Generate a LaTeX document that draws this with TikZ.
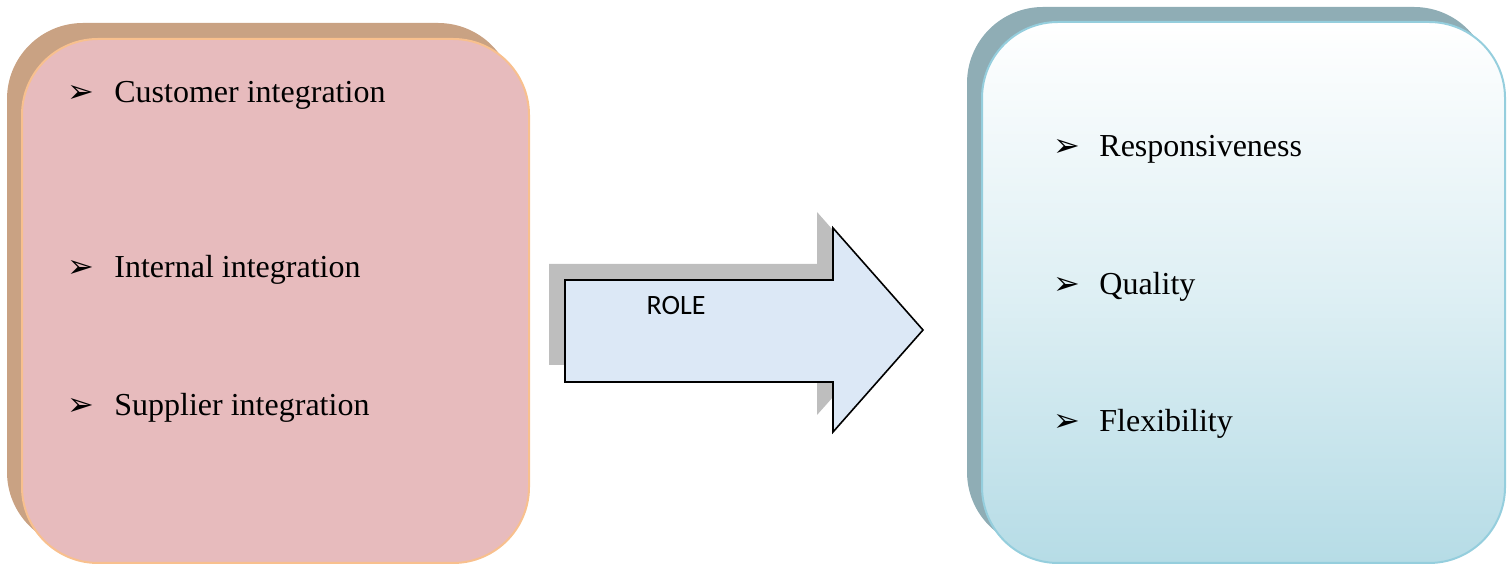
\documentclass[tikz,border=0pt]{standalone}
\usepackage{fontspec}
\setmainfont{Liberation Serif}
\newfontfamily\symfont{DejaVu Sans}
\newfontfamily\labelfont{Carlito}

\definecolor{pinkfill}{HTML}{E7BBBD}
\definecolor{pinkedge}{HTML}{F8C08E}
\definecolor{tanshade}{HTML}{C9A283}
\definecolor{blueedge}{HTML}{95CEDD}
\definecolor{blueshade}{HTML}{8FADB5}
\definecolor{bluebottom}{HTML}{B6DCE6}
\definecolor{arrowfill}{HTML}{DCE8F6}
\definecolor{arrowshade}{HTML}{BEBEBE}

\tikzset{
  panel/.style={rectangle, rounded corners=38pt, inner sep=0pt},
  item/.style={anchor=west, inner sep=0pt, font=\fontsize{16pt}{19pt}\selectfont},
  bullet/.style={anchor=west, inner sep=0pt, font=\symfont\bfseries\fontsize{16pt}{19pt}\selectfont},
}

\begin{document}
\begin{tikzpicture}[x=0.5pt, y=-0.5pt]
\useasboundingbox (0,0) rectangle (1508,565);

% left panel: drop shade and face
\node[panel, fill=tanshade, minimum width=253.5pt, minimum height=262.5pt] (lshade) at (260.5,285.5) {};
\node[panel, fill=pinkfill, draw=pinkedge, line width=1pt, minimum width=253.5pt, minimum height=262pt] (lface) at (275.5,301) {};

% right panel: drop shade and face with vertical gradient
\node[panel, fill=blueshade, minimum width=261.5pt, minimum height=270.5pt] (rshade) at (1228.5,277.5) {};
\node[panel, top color=white, bottom color=bluebottom, middle color=white!55!bluebottom, draw=blueedge, line width=1pt, minimum width=261.5pt, minimum height=270.5pt] (rface) at (1243.5,292.5) {};

% block arrow: shade then face
\fill[arrowshade] (549,264) -- (817,264) -- (817,212) -- (907,314) -- (817,415) -- (817,365) -- (549,365) -- cycle;
\draw[fill=arrowfill, line width=0.8pt, line join=miter]
  (565,280) coordinate (abl) -- (833,280) -- (833,228) -- (923,330) coordinate (atip)
  -- (833,432) -- (833,382) -- (565,382) -- cycle;
\node[font=\labelfont\fontsize{14pt}{16pt}\selectfont, inner sep=0pt] (role) at (676,306) {ROLE};

% left list
\node[bullet] (b1) at (67,94) {➢};
\node[item] (t1) at (114,95) {Customer integration};
\node[bullet] (b2) at (67,269) {➢};
\node[item] (t2) at (114,270) {Internal integration};
\node[bullet] (b3) at (67,407) {➢};
\node[item] (t3) at (114,408) {Supplier integration};

% right list
\node[bullet] (b4) at (1053,148) {➢};
\node[item] (t4) at (1099,149) {Responsiveness};
\node[bullet] (b5) at (1053,286) {➢};
\node[item] (t5) at (1099,287) {Quality};
\node[bullet] (b6) at (1053,423) {➢};
\node[item] (t6) at (1099,424) {Flexibility};
\end{tikzpicture}
\end{document}
